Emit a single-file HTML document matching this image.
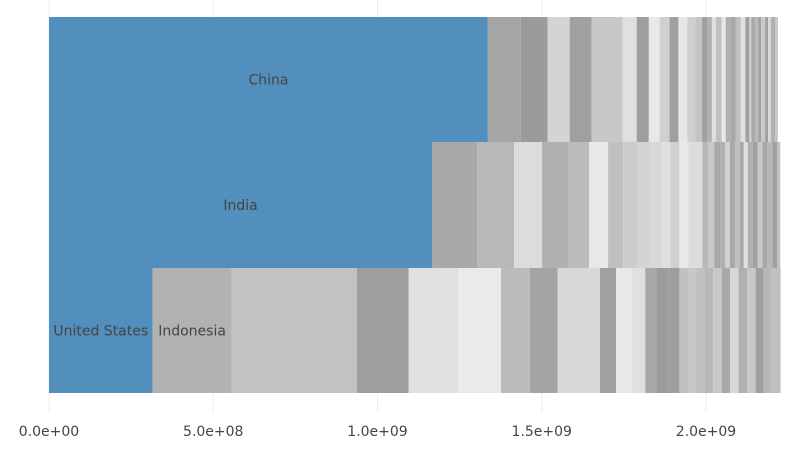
<!DOCTYPE html>
<html><head><meta charset="utf-8"><style>
html,body{margin:0;padding:0;background:#fff;}
svg{display:block;font-family:"DejaVu Sans","Liberation Sans",sans-serif;}
</style></head><body>
<svg id="chart" width="798" height="452"></svg>
<script>
// values in millions
const categories = ["United States", "India", "China"];
const topValues = [1336,100,82,67,67,94,43,37,33,30,27,27,24,21,15,15,12,18,12,15,15,15,15,12,6,12,9,9,12,9,9,12,9];
const midValues = [1166,137,113,85,79,64,58,46,43,37,37,27,27,27,43,18,18,18,15,15,15,15,12,12,15,15,15,15,15,15,9];
const botValues = [315,241,381,158,150,131,88,84,129,49,47,42,34,38,32,26,26,26,25,26,25,26,26,26,25,24,27];
const botLabels = ["United States","Indonesia"];
const topLabels = ["China"];
const midLabels = ["India"];
const xTicks = [0, 500, 1000, 1500, 2000];
const xTickLabels = ["0.0e+00","5.0e+08","1.0e+09","1.5e+09","2.0e+09"];

const topGreys = ["a5","9b","d4","a0","c8","e0","9e","e8","d0","a0","e6","cf","c4","a0","b0","e0","c0","e8","b0","a8","c0","e0","a0","d0","a8","b8","a0","c8","a0","d8","b0","c8"];
const midGreys = ["a8","b8","dc","b0","bc","e8","c0","cc","d4","d8","e0","d0","e8","dc","b8","c8","a8","b0","d0","a8","c0","a8","e0","b0","a0","c8","a8","b8","a0","c0"];
const botGreys = ["b2","c2","9e","e0","ea","bc","a4","d8","a0","e8","e0","a8","9c","9e","c0","c8","c0","b8","c8","a8","d8","b0","c8","a0","b8","c0","a8"];

const NS = "http://www.w3.org/2000/svg";
const svg = document.getElementById("chart");
const x = v => 49 + v * 0.3285;
const rowTop = [268, 142, 17], rowH = [125, 126, 125];
function mk(t, a){const e=document.createElementNS(NS,t);for(const k in a)e.setAttribute(k,a[k]);svg.appendChild(e);return e;}

xTicks.forEach((t,i)=>{
  const g = mk("line",{x1:x(t),x2:x(t),y1:0,y2:412,stroke:"#eeeeee","stroke-width":1});
  
  
});

const rows = [botValues, midValues, topValues];
const greys = [botGreys, midGreys, topGreys];
const labels = [botLabels, midLabels, topLabels];
rows.forEach((vals, r) => {
  let acc = 0;
  vals.forEach((v, i) => {
    const x0 = x(acc), x1 = x(acc + v);
    const isBlue = i === 0;
    const fill = isBlue ? "#528fbd" : "#" + greys[r][(i - 1) % greys[r].length].repeat(3);
    const rect = mk("rect",{x:x0,y:rowTop[r],width:Math.max(0,x1-x0),height:rowH[r],fill:fill});
    
    
    if (i < labels[r].length) {
      const t = mk("text",{x:(x0+x1)/2,y:rowTop[r]+rowH[r]/2+5,"text-anchor":"middle","font-size":14,fill:"#444"});
      t.textContent = labels[r][i];
      
      
    }
    acc += v;
  });
});

xTicks.forEach((t,i)=>{
  const tx = mk("text",{x:x(t),y:436,"text-anchor":"middle","font-size":14,fill:"#444"});
  tx.textContent = xTickLabels[i];
  
  
});
</script>
</body></html>
